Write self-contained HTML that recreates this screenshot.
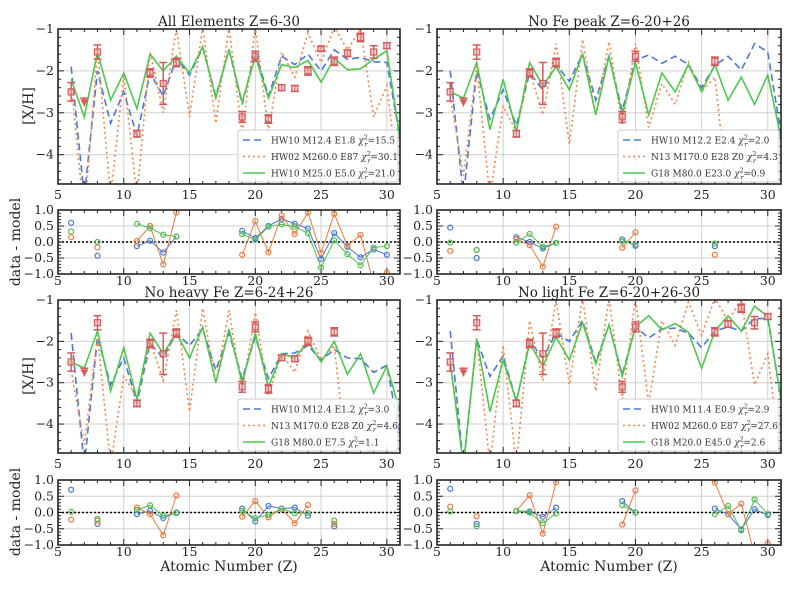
<!DOCTYPE html>
<html><head><meta charset="utf-8"><style>
body{margin:0;background:#fff;}
svg{display:block;font-family:"DejaVu Serif","Liberation Serif",serif;}
</style></head><body>
<svg id="fig" width="789" height="592" viewBox="0 0 789 592" xmlns="http://www.w3.org/2000/svg"></svg>
<script>
// ---------- data ----------
const Z = [6,7,8,9,10,11,12,13,14,15,16,17,18,19,20,21,22,23,24,25,26,27,28,29,30,31];
const obsZ   = [6,7,8,11,12,13,14,19,20,21,22,23,24,25,26,27,28,29,30];
const obsVal = [-2.5,-2.75,-1.55,-3.5,-2.05,-2.3,-1.8,-3.1,-1.65,-3.15,-2.4,-2.42,-2.0,-1.47,-1.77,-1.58,-1.2,-1.55,-1.4];
const obsErr = [0.22,0.1,0.17,0.08,0.1,0.5,0.1,0.13,0.12,0.1,0.07,0.07,0.1,0.05,0.1,0.08,0.1,0.15,0.07];
const obsLimit = [7];

const titles = ["All Elements Z=6-30","No Fe peak Z=6-20+26","No heavy Fe Z=6-24+26","No light Fe Z=6-20+26-30"];
const subsets = [
 [6,7,8,11,12,13,14,19,20,21,22,23,24,25,26,27,28,29,30],
 [6,7,8,11,12,13,14,19,20,26],
 [6,7,8,11,12,13,14,19,20,21,22,23,24,26],
 [6,7,8,11,12,13,14,19,20,26,27,28,29,30]];
const legends = [
 ["HW10 M12.4 E1.8 ","15.5","HW02 M260.0 E87 ","30.1","HW10 M25.0 E5.0 ","21.0"],
 ["HW10 M12.2 E2.4 ","2.0","N13 M170.0 E28 Z0 ","4.3","G18 M80.0 E23.0 ","0.9"],
 ["HW10 M12.4 E1.2 ","3.0","N13 M170.0 E28 Z0 ","4.6","G18 M80.0 E7.5 ","1.1"],
 ["HW10 M11.4 E0.9 ","2.9","HW02 M260.0 E87 ","27.6","G18 M20.0 E45.0 ","2.6"]];

const blue0=[-1.9,-5,-2.0,-3.25,-2.5,-3.55,-2.05,-2.6,-1.7,-2.1,-1.45,-2.6,-1.5,-2.8,-1.55,-2.6,-1.65,-1.85,-1.6,-2.0,-1.5,-1.72,-1.68,-1.78,-1.8,-3.6];
const orange0=[-2.3,-5.5,-1.5,-5,-2.1,-5,-1.55,-3.0,-1.0,-3.1,-0.95,-3.25,-0.95,-3.5,-0.95,-3.45,-1.55,-2.15,-1.1,-1.8,-0.95,-1.5,-1.0,-3.1,-2.35,-5];
const green0=[-2.2,-3.1,-1.55,-2.7,-2.05,-2.9,-1.6,-2.0,-1.65,-2.05,-1.42,-2.65,-1.48,-2.75,-1.65,-2.65,-1.85,-1.92,-1.75,-2.27,-1.7,-1.97,-1.95,-1.72,-1.52,-3.6];
const blue1=[-2.0,-5,-2.0,-3.15,-2.45,-3.3,-2.05,-2.45,-1.85,-2.25,-1.6,-2.7,-1.65,-2.95,-1.75,-1.62,-1.82,-1.65,-1.85,-2.4,-1.87,-1.65,-1.98,-1.35,-1.55,-3.5];
const orange1=[-2.6,-4.5,-1.9,-5,-2.85,-3.45,-2.0,-3.05,-1.35,-3.75,-1.25,-3.05,-1.3,-3.3,-1.35,-3.35,-2.3,-2.8,-1.8,-2.5,-2.15,-5,-3.4,-5,-5,-5];
const green1=[-2.5,-2.65,-1.8,-3.4,-2.2,-3.45,-1.8,-2.35,-1.9,-2.45,-1.6,-3.05,-1.65,-3.05,-1.8,-3.05,-2.05,-2.5,-1.85,-2.5,-1.85,-2.7,-2.15,-2.8,-2.1,-3.6];
const blue2=[-1.8,-5,-1.9,-3.05,-2.4,-3.5,-2.05,-2.4,-1.8,-2.1,-1.7,-2.7,-1.8,-2.9,-1.9,-2.9,-2.3,-2.28,-2.1,-2.45,-2.2,-2.4,-2.42,-2.75,-2.58,-4.3];
const orange2=[-2.7,-4.5,-1.85,-5,-2.85,-3.35,-2.0,-2.95,-1.25,-3.7,-1.2,-3.0,-1.25,-3.2,-1.3,-3.3,-2.3,-2.75,-1.75,-2.45,-2.1,-5,-3.8,-5,-5,-5];
const green2=[-2.5,-2.65,-1.75,-3.2,-2.15,-3.4,-1.8,-2.3,-1.8,-2.4,-1.65,-3.0,-1.7,-3.0,-1.8,-3.1,-2.3,-2.4,-2.0,-2.5,-2.0,-2.8,-2.3,-3.25,-2.6,-3.7];
const blue3=[-1.75,-5,-1.95,-2.85,-2.35,-3.45,-2.0,-2.4,-1.8,-2.0,-1.5,-2.5,-1.6,-2.8,-1.65,-1.92,-1.7,-1.68,-1.8,-2.15,-1.75,-1.65,-1.75,-1.45,-1.45,-3.4];
const orange3=[-2.5,-5,-1.9,-5,-2.1,-5,-1.5,-2.95,-1.0,-3.05,-0.95,-3.2,-0.95,-3.4,-0.95,-3.5,-1.5,-2.1,-1.05,-1.85,-0.95,-1.5,-1.0,-3.05,-2.3,-5];
const green3=[-2.5,-5,-1.95,-3.7,-2.45,-3.45,-2.05,-2.6,-1.9,-2.45,-1.55,-2.55,-1.6,-2.85,-1.65,-1.38,-1.72,-1.57,-1.78,-2.65,-1.75,-1.38,-1.75,-1.15,-1.4,-3.4];

const rZ0=[6,8,11,12,13,14,19,20,21,22,23,24,25,26,27,28,29,30];
const rBlue0=[0.6,-0.43,-0.13,0.04,-0.33,0.17,0.35,0.12,0.5,0.72,0.57,0.42,-0.53,0.28,-0.15,-0.48,-0.23,-0.4];
const rOrange0=[0.15,-0.17,0.03,0.5,-0.7,0.92,-0.4,0.65,-0.32,0.83,0.25,0.92,-0.35,0.88,-0.12,0.22,-1.3,-0.95];
const rGreen0=[0.33,0.0,0.57,0.43,0.23,0.17,0.25,0.07,0.48,0.55,0.48,0.27,-0.8,0.05,-0.38,-0.73,-0.17,-0.13];
const rZ1=[6,8,11,12,13,14,19,20,26];
const rBlue1=[0.45,-0.5,0.15,0.0,-0.2,-0.03,0.08,-0.12,-0.13];
const rOrange1=[-0.28,-0.25,0.1,-0.1,-0.77,0.48,-0.18,0.3,-0.4];
const rGreen1=[-0.02,-0.25,-0.02,0.25,-0.15,-0.03,0.02,-0.08,-0.05];
const rZ2=[6,8,11,12,13,14,19,20,21,22,23,24,26];
const rBlue2=[0.7,-0.35,-0.05,0.05,-0.17,0.0,0.12,-0.27,0.2,0.12,0.15,-0.1,-0.43];
const rOrange2=[-0.22,-0.25,0.15,-0.05,-0.7,0.52,-0.13,0.35,-0.15,0.12,-0.33,0.23,-0.35];
const rGreen2=[0.02,-0.2,0.08,0.22,-0.1,-0.02,0.05,-0.17,-0.08,0.12,-0.02,-0.02,-0.25];
const rZ3=[6,8,11,12,13,14,19,20,26,27,28,29,30];
const rBlue3=[0.73,-0.35,0.05,0.03,-0.13,0.15,0.35,0.0,0.12,-0.05,-0.52,0.1,-0.08];
const rOrange3=[0.18,-0.12,0.05,0.53,-0.65,0.93,-0.37,0.68,0.92,-0.05,0.27,-1.3,-0.95];
const rGreen3=[0.03,-0.42,0.05,0.0,-0.33,-0.03,0.22,0.0,-0.05,0.2,-0.55,0.4,-0.05];

const xTicks=[5,10,15,20,25,30];
const yTicks=[-1,-2,-3,-4];
const rTicks=[1.0,0.5,0.0,-0.5,-1.0];

const models=[[blue0,orange0,green0],[blue1,orange1,green1],[blue2,orange2,green2],[blue3,orange3,green3]];
const resZ=[rZ0,rZ1,rZ2,rZ3];
const resV=[[rBlue0,rOrange0,rGreen0],[rBlue1,rOrange1,rGreen1],[rBlue2,rOrange2,rGreen2],[rBlue3,rOrange3,rGreen3]];

// ---------- drawing ----------
const NS="http://www.w3.org/2000/svg";
const svg=document.getElementById('fig');
function mk(tag,attrs,parent){const e=document.createElementNS(NS,tag);for(const k in attrs)e.setAttribute(k,attrs[k]);(parent||svg).appendChild(e);return e;}
const lineCols=["#4a78d8","#f5844c","#4cc94c"];
const resCols=["#4a78d0","#ee7a3a","#55bb55"];
const dashes=["7,4","2,3",""];
const G=[{x0:58,x1:400},{x0:437,x1:781}];
const R=[{m0:29,m1:184,r0:210,r1:274},{m0:300,m1:453,r0:480,r1:545}];

for(let p=0;p<4;p++){
  const gx=G[p%2], gy=R[Math.floor(p/2)];
  const sx=z=>gx.x0+(z-5)/26*(gx.x1-gx.x0);
  const sy=v=>gy.m0+(-1-v)/3.7*(gy.m1-gy.m0);
  const sr=v=>gy.r0+(1-v)/2*(gy.r1-gy.r0);
  const g=mk('g',{});
  
  
  const cid='clip'+p, cid2='clipr'+p;
  const cp=mk('clipPath',{id:cid},g); mk('rect',{x:gx.x0,y:gy.m0,width:gx.x1-gx.x0,height:gy.m1-gy.m0},cp);
  const cp2=mk('clipPath',{id:cid2},g); mk('rect',{x:gx.x0,y:gy.r0,width:gx.x1-gx.x0,height:gy.r1-gy.r0},cp2);
  for(const t of xTicks){
    if(t===5)continue;
    mk('line',{x1:sx(t),x2:sx(t),y1:gy.m0,y2:gy.m1,stroke:'#d0d0d0','stroke-width':1},g);
    mk('line',{x1:sx(t),x2:sx(t),y1:gy.r0,y2:gy.r1,stroke:'#d0d0d0','stroke-width':1},g);
  }
  for(const t of yTicks) mk('line',{x1:gx.x0,x2:gx.x1,y1:sy(t),y2:sy(t),stroke:'#d0d0d0','stroke-width':1},g);
  for(const t of rTicks) mk('line',{x1:gx.x0,x2:gx.x1,y1:sr(t),y2:sr(t),stroke:'#d0d0d0','stroke-width':1},g);
  for(let z=5;z<=31;z++){
    const len=(z%5===0)?6:3;
    for(const [a,b] of [[gy.m1,-1],[gy.m0,1],[gy.r1,-1],[gy.r0,1]])
      mk('line',{x1:sx(z),x2:sx(z),y1:a,y2:a+b*len,stroke:'#222','stroke-width':1},g);
  }
  for(let v=-1;v>=-4.7;v-=0.2){const len=(Math.abs(v-Math.round(v))<0.01)?6:3;
    mk('line',{x1:gx.x0,x2:gx.x0+len,y1:sy(v),y2:sy(v),stroke:'#222','stroke-width':1},g);
    mk('line',{x1:gx.x1,x2:gx.x1-len,y1:sy(v),y2:sy(v),stroke:'#222','stroke-width':1},g);}
  for(let v=1;v>=-1.001;v-=0.1){const len=(Math.abs(v*2-Math.round(v*2))<0.01)?6:3;
    mk('line',{x1:gx.x0,x2:gx.x0+len,y1:sr(v),y2:sr(v),stroke:'#222','stroke-width':1},g);
    mk('line',{x1:gx.x1,x2:gx.x1-len,y1:sr(v),y2:sr(v),stroke:'#222','stroke-width':1},g);}
  const ml=mk('g',{'clip-path':'url(#'+cid+')'},g);
  const names=['model-hw10-line','model-orange-line','model-green-line'];
  for(let m=0;m<3;m++){
    const pts=Z.map((z,i)=>sx(z)+','+sy(models[p][m][i])).join(' ');
    const pl=mk('polyline',{points:pts,fill:'none',stroke:lineCols[m],'stroke-width':1.6},ml);
    if(dashes[m])pl.setAttribute('stroke-dasharray',dashes[m]);
    
    
  }
  const og=mk('g',{'clip-path':'url(#'+cid+')'},g);
  obsZ.forEach((z,i)=>{
    if(!subsets[p].includes(z))return;
    const x=sx(z),y=sy(obsVal[i]),e=obsErr[i];
    const y1=sy(obsVal[i]+e), y2=sy(obsVal[i]-e);
    mk('line',{x1:x,x2:x,y1:y1,y2:y2,stroke:'#d45a5a','stroke-width':1.5},og);
    mk('line',{x1:x-4,x2:x+4,y1:y1,y2:y1,stroke:'#d45a5a','stroke-width':1.5},og);
    if(obsLimit.includes(z)){
      const tri=mk('path',{d:`M${x-4},${y-3}L${x+4},${y-3}L${x},${y+4}Z`,fill:'#d45a5a'},og);
      
      
    } else {
      mk('line',{x1:x-4,x2:x+4,y1:y2,y2:y2,stroke:'#d45a5a','stroke-width':1.5},og);
      const sq=mk('rect',{x:x-3,y:y-3,width:6,height:6,fill:'rgba(235,170,170,0.5)',stroke:'#d45a5a','stroke-width':1.2},og);
      
      
    }
  });
  const rg=mk('g',{'clip-path':'url(#'+cid2+')'},g);
  mk('line',{x1:gx.x0,x2:gx.x1,y1:sr(0),y2:sr(0),stroke:'#000','stroke-width':1.6,'stroke-dasharray':'2,2'},rg);
  const rz=resZ[p];
  for(let m=0;m<3;m++){
    const vals=resV[p][m];
    let run=[];
    const flush=()=>{if(run.length>1){const pl=mk('polyline',{points:run.map(i=>sx(rz[i])+','+sr(vals[i])).join(' '),fill:'none',stroke:resCols[m],'stroke-width':1},rg);
      
      }run=[];};
    rz.forEach((z,i)=>{if(i>0&&z!==rz[i-1]+1)flush();run.push(i);});flush();
    rz.forEach((z,i)=>{const c=mk('circle',{cx:sx(z),cy:sr(vals[i]),r:2.5,fill:'none',stroke:resCols[m],'stroke-width':1.2},rg);
      
      });
  }
  mk('rect',{x:gx.x0,y:gy.m0,width:gx.x1-gx.x0,height:gy.m1-gy.m0,fill:'none',stroke:'#222','stroke-width':1.6},g);
  mk('rect',{x:gx.x0,y:gy.r0,width:gx.x1-gx.x0,height:gy.r1-gy.r0,fill:'none',stroke:'#222','stroke-width':1.6},g);
  for(const t of xTicks){
    const a=mk('text',{x:sx(t),y:gy.m1+15,'text-anchor':'middle','font-size':12.5,fill:'#222'},g);a.textContent=t;
    const b=mk('text',{x:sx(t),y:gy.r1+11,'text-anchor':'middle','font-size':12.5,fill:'#222'},g);b.textContent=t;
  }
  for(const t of yTicks){const a=mk('text',{x:gx.x0-4,y:sy(t)+4,'text-anchor':'end','font-size':12.5,fill:'#222'},g);a.textContent='\u2212'+Math.abs(t);}
  for(const t of rTicks){const a=mk('text',{x:gx.x0-4,y:sr(t)+4,'text-anchor':'end','font-size':12.5,fill:'#222'},g);a.textContent=(t<0?'\u2212':'')+Math.abs(t).toFixed(1);}
  const tt=mk('text',{x:(gx.x0+gx.x1)/2,y:gy.m0-3,'text-anchor':'middle','font-size':13.5,fill:'#222'},g);tt.textContent=titles[p];
  
  
  // legend
  const lx=(p%2===0)?238:618, lw=gx.x1-2-lx, ly=gy.m1-54;
  const lg=mk('g',{},g);
  
  
  mk('rect',{x:lx,y:ly,width:lw,height:52,fill:'rgba(255,255,255,0.85)',stroke:'#ccc','stroke-width':1,rx:2},lg);
  for(let m=0;m<3;m++){
    const yy=ly+10+m*16.5;
    const l=mk('line',{x1:lx+5,x2:lx+27,y1:yy,y2:yy,stroke:lineCols[m],'stroke-width':1.6},lg);
    if(dashes[m])l.setAttribute('stroke-dasharray',dashes[m]);
    const tx=mk('text',{x:lx+33,y:yy+3.5,'font-size':9,fill:'#333'},lg);
    tx.textContent=legends[p][2*m];
    const ch=mk('tspan',{'font-style':'italic'},tx);ch.textContent='\u03c7';
    const sup=mk('tspan',{'font-size':6.5,dy:-4},tx);sup.textContent='2';
    const sub=mk('tspan',{'font-size':6.5,dx:-3.5,dy:7,'font-style':'italic'},tx);sub.textContent='r';
    const vv=mk('tspan',{dy:-3},tx);vv.textContent='='+legends[p][2*m+1];
  }
}
function lab(txt,x,y,rot,name,size){const t=mk('text',{x:x,y:y,'text-anchor':'middle','font-size':size||14,fill:'#222'});
  if(rot)t.setAttribute('transform',`rotate(-90 ${x} ${y})`);t.textContent=txt;}
lab('[X/H]',33,106,true,'y-axis-title-top');
lab('[X/H]',33,376,true,'y-axis-title-bottom');
lab('data - model',20,242,true,'residual-axis-title-top');
lab('data - model',20,512,true,'residual-axis-title-bottom');
lab('Atomic Number (Z)',229,571,false,'x-axis-title-left');
lab('Atomic Number (Z)',609,571,false,'x-axis-title-right');
</script>
</body></html>
